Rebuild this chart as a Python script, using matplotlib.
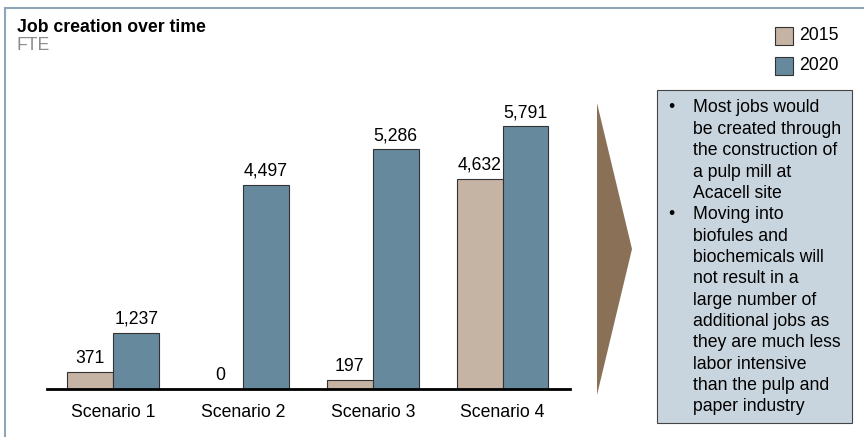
import numpy as np
import matplotlib.pyplot as plt
from matplotlib.patches import Rectangle, Polygon

plt.rcParams['font.family'] = ['Liberation Sans', 'DejaVu Sans']
FS = 12.7

scenarios = ['Scenario 1', 'Scenario 2', 'Scenario 3', 'Scenario 4']
jobs_2015 = [371, 0, 197, 4632]
jobs_2020 = [1237, 4497, 5286, 5791]
years = ['2015', '2020']
colors = ['#C5B3A3', '#67899D']

bullet_1 = ['Most jobs would', 'be created through', 'the construction of',
            'a pulp mill at', 'Acacell site']
bullet_2 = ['Moving into', 'biofules and', 'biochemicals will', 'not result in a',
            'large number of', 'additional jobs as', 'they are much less',
            'labor intensive', 'than the pulp and', 'paper industry']

W, H = 864, 437
fig = plt.figure(figsize=(W / 100, H / 100), dpi=100)


def fx(x):
    return x / W


def fy(y):
    return 1 - y / H


# outer frame (top and left edges)
fig.add_artist(plt.Line2D([fx(5), 1], [fy(8), fy(8)], color='#8FA6B8', lw=1.5))
fig.add_artist(plt.Line2D([fx(5), fx(5)], [fy(8), 0], color='#8FA6B8', lw=1.5))

fig.text(fx(17), fy(27), 'Job creation over time', fontsize=FS, fontweight='bold',
         va='center', ha='left')
fig.text(fx(17), fy(46), 'FTE', fontsize=FS, color='#8C8C8C', va='center', ha='left')

# bar chart
ax = fig.add_axes([fx(47), fy(389), fx(570) - fx(47), fy(94) - fy(389)])
x = np.arange(len(scenarios))
w = 0.354
b1 = ax.bar(x - w / 2, jobs_2015, w, color=colors[0], edgecolor='#333333', lw=0.8)
b2 = ax.bar(x + w / 2, jobs_2020, w, color=colors[1], edgecolor='#333333', lw=0.8)
for bars, vals in [(b1, jobs_2015), (b2, jobs_2020)]:
    for r, v in zip(bars, vals):
        ax.text(r.get_x() + r.get_width() / 2, v + 110, f'{v:,}', ha='center',
                va='bottom', fontsize=FS)
ax.set_xlim(-0.51, 3.52)
ax.set_ylim(0, 6500)
ax.set_xticks(x)
ax.set_xticklabels(scenarios, fontsize=FS)
ax.tick_params(axis='x', length=0, pad=11)
ax.set_yticks([])
for s in ['top', 'right', 'left']:
    ax.spines[s].set_visible(False)
ax.spines['bottom'].set_linewidth(2)
ax.patch.set_alpha(0)

# legend
for i, (yr, c) in enumerate(zip(years, colors)):
    y0 = 27 + i * 30
    fig.add_artist(Rectangle((fx(775), fy(y0 + 18)), fx(18), fy(0) - fy(18),
                             facecolor=c, edgecolor='#333333', lw=0.8))
    fig.text(fx(799), fy(y0 + 9), yr, fontsize=FS, va='center', ha='left')

# arrow
fig.add_artist(Polygon([(fx(597), fy(103)), (fx(632), fy(249)), (fx(597), fy(395))],
                       closed=True, facecolor='#8A7056', edgecolor='none'))

# text box
fig.add_artist(Rectangle((fx(657), fy(423)), fx(852) - fx(657), fy(90) - fy(423),
                         facecolor='#C9D5DE', edgecolor='#444444', lw=0.8))
y = 108
for lines in [bullet_1, bullet_2]:
    fig.text(fx(668), fy(y), '\u2022', fontsize=FS, va='center', ha='left')
    for ln in lines:
        fig.text(fx(693), fy(y), ln, fontsize=FS, va='center', ha='left')
        y += 21.35

fig.savefig('out.png', dpi=100)
